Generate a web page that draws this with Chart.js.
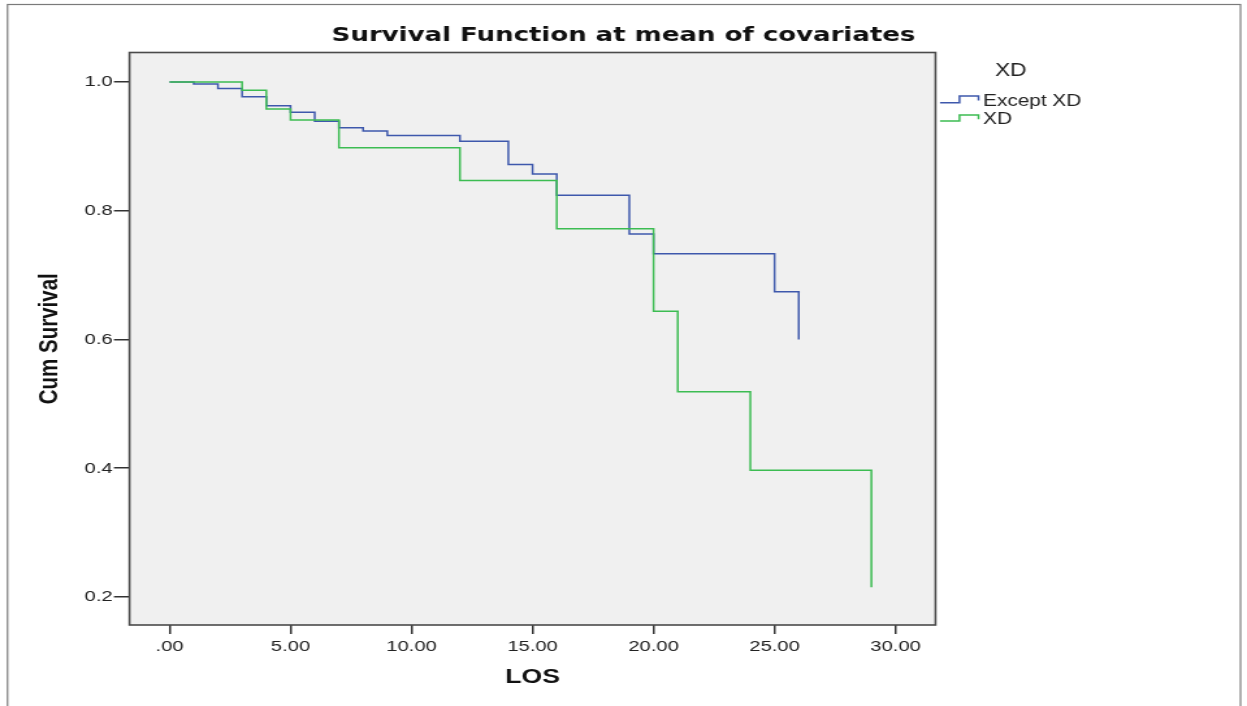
<!DOCTYPE html>
<html>
<head>
<meta charset="utf-8">
<script src="https://cdn.jsdelivr.net/npm/chart.js@4.4.1/dist/chart.umd.min.js"></script>
<style>
  html, body { margin: 0; padding: 0; background: #ffffff; overflow: hidden; }
  #c { display: block; width: 1247px !important; height: 706px !important; }
</style>
</head>
<body>
<canvas id="c" width="959" height="706" style="width:1247px;height:706px;display:block"></canvas>
<script>
// ---- data ----
const chartTitle = 'Survival Function at mean of covariates';
const xTitle = 'LOS';
const yTitle = 'Cum Survival';
const legendTitle = 'XD';
const groupLabels = ['Except XD', 'XD'];

const losExcept  = [0, 1, 2, 3, 4, 5, 6, 7, 8, 9, 12, 14, 15, 16, 19, 20, 25, 26];
const survExcept = [1.0, 0.997, 0.990, 0.977, 0.963, 0.953, 0.939, 0.929, 0.924, 0.917, 0.908, 0.872, 0.857, 0.824, 0.764, 0.733, 0.674, 0.600];

const losXD  = [0, 3, 4, 5, 7, 12, 16, 20, 21, 24, 29];
const survXD = [1.0, 0.987, 0.958, 0.941, 0.898, 0.847, 0.772, 0.644, 0.519, 0.397, 0.215];

const xTicks = [0, 5, 10, 15, 20, 25, 30];
const xTickLabels = ['.00', '5.00', '10.00', '15.00', '20.00', '25.00', '30.00'];
const yTicks = [0.2, 0.4, 0.6, 0.8, 1.0];
const yTickLabels = ['0.2', '0.4', '0.6', '0.8', '1.0'];

// ---- styling ----
const SX = 1247 / 959;           // horizontal stretch of the original picture
const BLUE = '#3e58ac';
const GREEN = '#3cbc52';

function toPoints(xs, ys) { return xs.map((x, i) => ({ x: x, y: ys[i] })); }

const framePlugin = {
  id: 'frame',
  beforeDraw(chart) {
    const { ctx, chartArea: a } = chart;
    ctx.save();
    ctx.fillStyle = '#ffffff';
    ctx.fillRect(0, 0, chart.width, chart.height);
    // outer border
    ctx.strokeStyle = '#7a7a7a';
    ctx.lineWidth = 1.2;
    ctx.strokeRect(7.5 / SX, 4.5, (1240.5 - 7.5) / SX, 720);
    // plot background
    ctx.fillStyle = '#f0f0f0';
    ctx.fillRect(a.left, a.top, a.right - a.left, a.bottom - a.top);
    ctx.restore();
  },
  afterDraw(chart) {
    const { ctx, chartArea: a } = chart;
    ctx.save();
    ctx.strokeStyle = '#4a4a4a';
    ctx.lineWidth = 1.6;
    ctx.strokeRect(a.left, a.top, a.right - a.left, a.bottom - a.top);

    // legend
    ctx.fillStyle = '#222';
    ctx.textBaseline = 'middle';
    ctx.textAlign = 'left';
    ctx.font = '17.5px "Liberation Sans", Arial, sans-serif';
    ctx.fillText(legendTitle, 995 / SX, 71.5);
    const rows = [
      { ds: chart.data.datasets[0], low: 102.7, high: 96, leg: 100.5, text: 101.5 },
      { ds: chart.data.datasets[1], low: 121, high: 115, leg: 119.3, text: 120 }
    ];
    ctx.font = '16px "Liberation Sans", Arial, sans-serif';
    rows.forEach(r => {
      ctx.strokeStyle = r.ds.borderColor;
      ctx.lineWidth = 1.5;
      ctx.beginPath();
      ctx.moveTo(940 / SX, r.low);
      ctx.lineTo(959.5 / SX, r.low);
      ctx.lineTo(959.5 / SX, r.high);
      ctx.lineTo(978.5 / SX, r.high);
      ctx.lineTo(978.5 / SX, r.leg);
      ctx.stroke();
      ctx.fillStyle = '#222';
      ctx.fillText(r.ds.label, 983 / SX, r.text);
    });
    ctx.restore();
  }
};

new Chart(document.getElementById('c'), {
  type: 'line',
  data: {
    datasets: [
      {
        label: groupLabels[0],
        data: toPoints(losExcept, survExcept),
        borderColor: BLUE,
        borderWidth: 1.5,
        stepped: true,
        pointRadius: 0,
        fill: false,
        order: 1
      },
      {
        label: groupLabels[1],
        data: toPoints(losXD, survXD),
        borderColor: GREEN,
        borderWidth: 1.5,
        stepped: true,
        pointRadius: 0,
        fill: false,
        order: 0
      }
    ]
  },
  options: {
    responsive: false,
    devicePixelRatio: 1,
    animation: false,
    events: [],
    layout: { padding: { left: 0, right: 0, top: 0, bottom: 0 } },
    plugins: {
      legend: { display: false },
      tooltip: { enabled: false },
      title: {
        display: true,
        text: chartTitle,
        color: '#111',
        font: { family: '"DejaVu Sans", sans-serif', size: 20, weight: 'bold', lineHeight: 1.2 },
        padding: { top: 24, bottom: 4.5 }
      }
    },
    scales: {
      x: {
        type: 'linear',
        min: -1.653,
        max: 31.65,
        afterFit(s) { s.height = 81; },
        afterBuildTicks(s) { s.ticks = xTicks.map(v => ({ value: v })); },
        ticks: {
          callback: (v, i) => xTickLabels[i],
          color: '#222',
          font: { family: '"Liberation Sans", Arial, sans-serif', size: 15.5 },
          padding: 3,
          maxRotation: 0,
          autoSkip: false
        },
        grid: { drawOnChartArea: false, drawTicks: true, tickLength: 9, color: '#333', lineWidth: 1.5 },
        border: { display: false },
        title: {
          display: true,
          text: xTitle,
          color: '#111',
          font: { family: '"Liberation Sans", Arial, sans-serif', size: 20.5, weight: 'bold', lineHeight: 1.2 },
          padding: { top: 0, bottom: 16.2 }
        }
      },
      y: {
        type: 'linear',
        min: 0.1565,
        max: 1.0458,
        afterFit(s) { s.width = 129.5 / SX; },
        afterBuildTicks(s) { s.ticks = yTicks.map(v => ({ value: v })); },
        ticks: {
          callback: (v, i) => yTickLabels[i],
          color: '#222',
          font: { family: '"Liberation Sans", Arial, sans-serif', size: 15.5 },
          padding: 1,
          autoSkip: false
        },
        grid: { drawOnChartArea: false, drawTicks: true, tickLength: 12, color: '#333', lineWidth: 1.5 },
        border: { display: false },
        title: {
          display: true,
          text: yTitle,
          color: '#111',
          font: { family: '"Liberation Sans", Arial, sans-serif', size: 20.5, weight: 'bold', lineHeight: 1.2 },
          padding: { top: 26.5, bottom: 0 }
        }
      },
      legendSpace: {
        type: 'linear',
        position: 'right',
        display: true,
        afterFit(s) { s.width = 959 - 935.5 / SX; },
        ticks: { display: false },
        grid: { display: false, drawTicks: false },
        border: { display: false },
        title: { display: false }
      }
    }
  },
  plugins: [framePlugin]
});
</script>
</body>
</html>
